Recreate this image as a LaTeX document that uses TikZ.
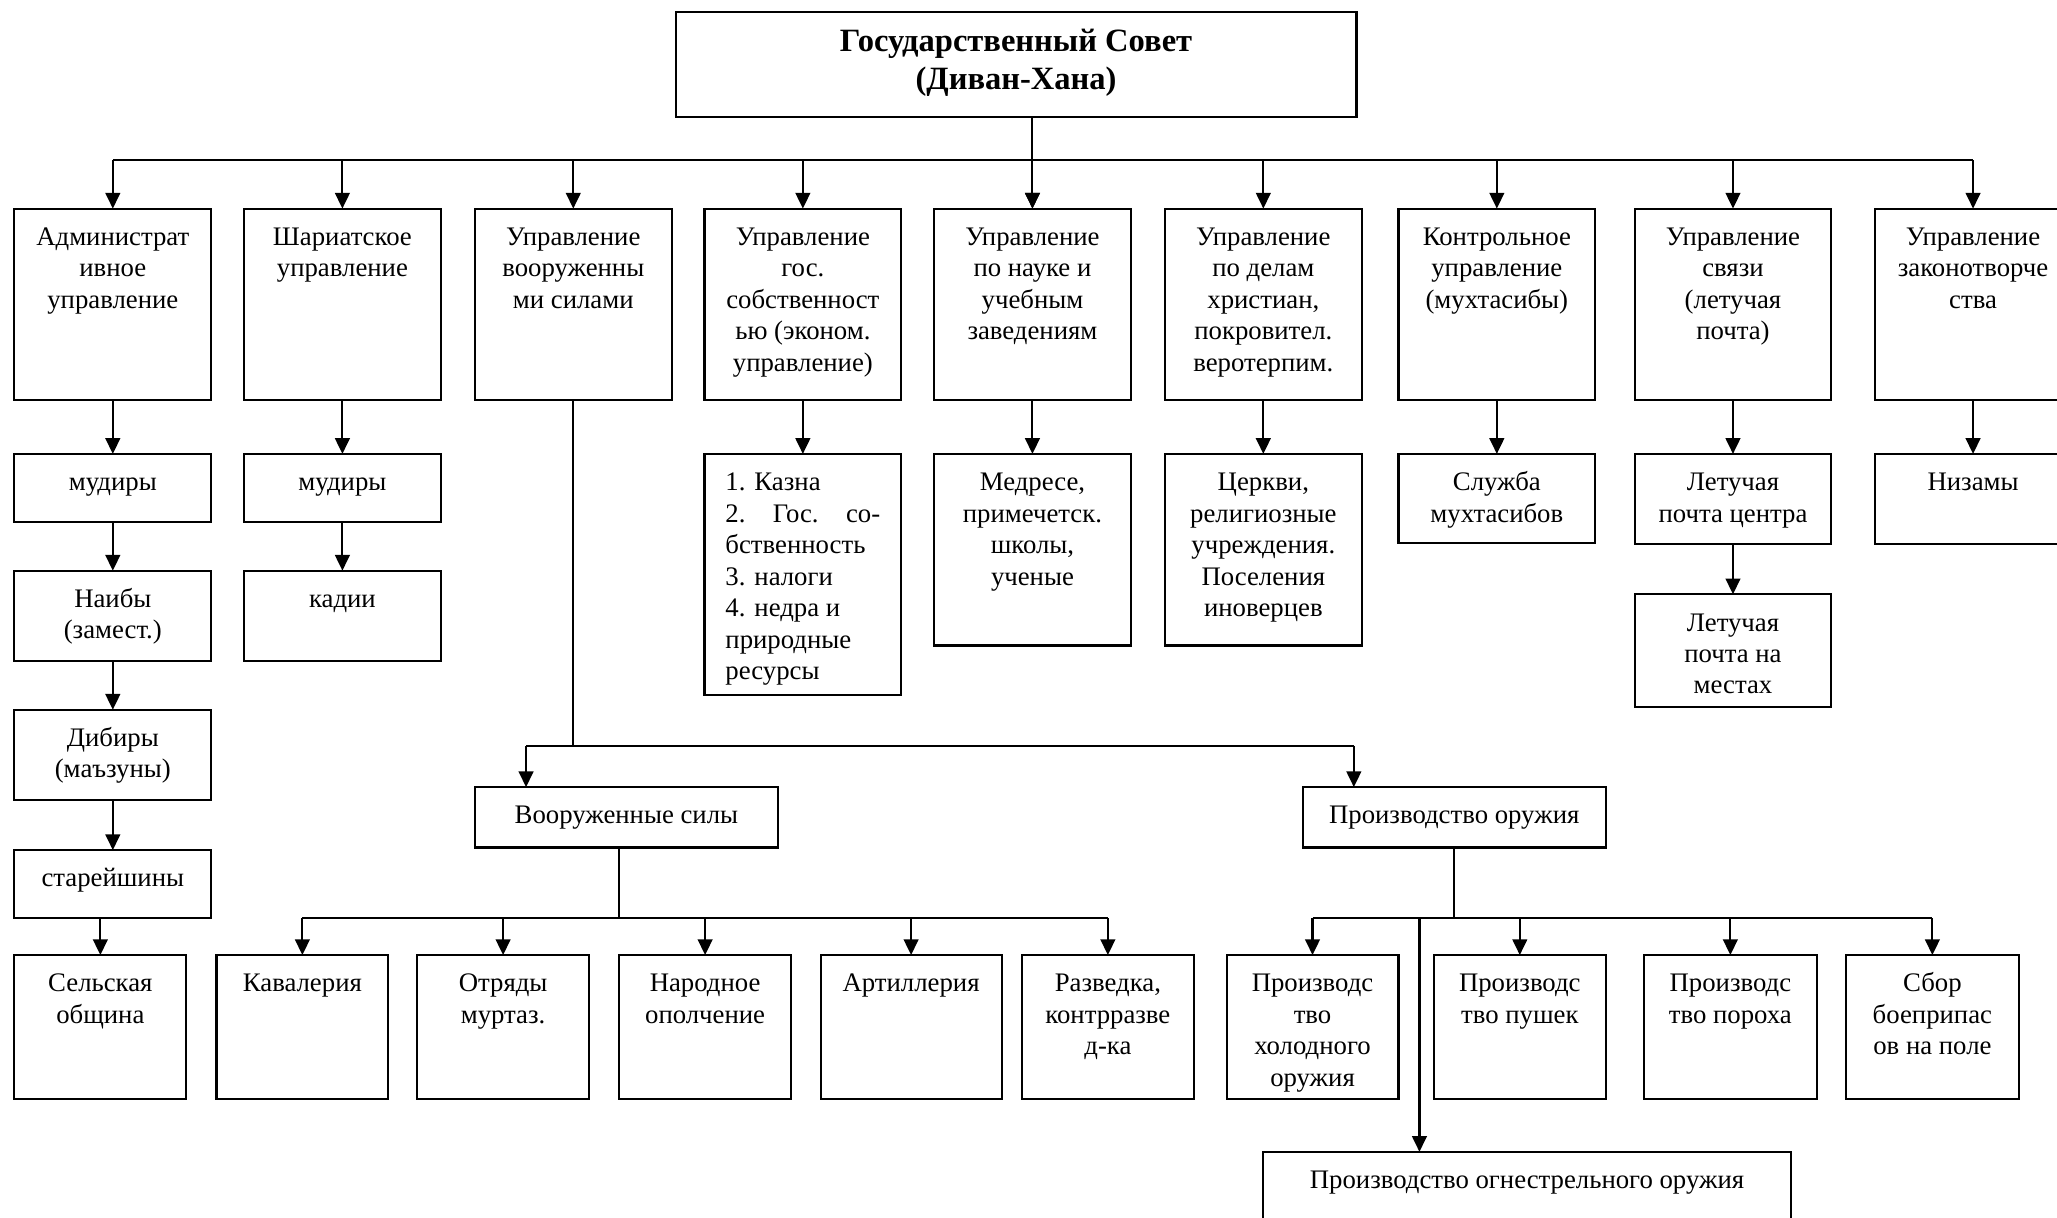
\documentclass[tikz,border=0pt]{standalone}
\usepackage{fontspec}
\setmainfont{Liberation Serif}
\usepackage{tikz}
\usetikzlibrary{arrows.meta,calc}
\newlength{\ux}
\setlength{\ux}{0.5pt}
\newcommand{\cell}[3]{\parbox[c][#2\ux][t]{#1\ux}{\centering\vspace*{5.6pt}\strut#3\par}}
\newcommand{\lcell}[3]{\parbox[c][#2\ux][t]{#1\ux}{\vspace*{5.6pt}\leftskip=16\ux\rightskip=16\ux plus 1fil\parfillskip=0pt plus 1fil\noindent\strut#3\par}}
\tikzset{
    dept/.style={
           rectangle,
           draw=black, line width=0.8pt,
           inner sep=0pt, outer sep=0pt,
           anchor=north west,
           },
}
\tikzset{
    link/.style={
           draw=black, line width=0.8pt,
           -{Triangle[length=6pt,width=5.6pt]},
           },
}
\tikzset{
    wire/.style={
           draw=black, line width=0.8pt,
           },
}
\begin{document}
\begin{tikzpicture}[x=0.5pt,y=-0.5pt,font=\fontsize{10.2}{12}\selectfont]
\useasboundingbox (0,0) rectangle (1568,928.4);
\fill[white] (0,0) rectangle (1568,928.4);
\node[dept] (gov) at (515,9) {\parbox[c][80\ux][t]{519\ux}{\centering\fontsize{12.4}{14.5}\selectfont\bfseries\vspace*{5pt}\strut Государственный Совет\\(Диван-Хана)\par}};
\node[dept] (adm) at (11,159) {\cell{150}{146}{Администрат\\ивное\\управление}};
\node[dept] (shar) at (186,159) {\cell{150}{146}{Шариатское\\управление}};
\node[dept] (arm) at (362,159) {\cell{150}{146}{Управление\\вооруженны\\ми силами}};
\node[dept] (sob) at (537,159) {\cell{150}{146}{Управление\\гос.\\собственност\\ью (эконом.\\управление)}};
\node[dept] (nauka) at (712,159) {\cell{150}{146}{Управление\\по науке и\\учебным\\заведениям}};
\node[dept] (hrist) at (888,159) {\cell{150}{146}{Управление\\по делам\\христиан,\\покровител.\\веротерпим.}};
\node[dept] (kontr) at (1066,159) {\cell{150}{146}{Контрольное\\управление\\(мухтасибы)}};
\node[dept] (svyaz) at (1246,159) {\cell{150}{146}{Управление\\связи\\(летучая\\почта)}};
\node[dept] (zakon) at (1429,159) {\cell{150}{146}{Управление\\законотворче\\ства}};
\node[dept] (mud1) at (11,346) {\cell{150}{52}{мудиры}};
\node[dept] (naib) at (11,435) {\cell{150}{69}{Наибы\\(замест.)}};
\node[dept] (dib) at (11,541) {\cell{150}{69}{Дибиры\\(маъзуны)}};
\node[dept] (star) at (11,648) {\cell{150}{52}{старейшины}};
\node[dept] (selo) at (11,728) {\cell{131}{110}{Сельская\\община}};
\node[dept] (mud2) at (186,346) {\cell{150}{52}{мудиры}};
\node[dept] (kadi) at (186,435) {\cell{150}{69}{кадии}};
\node[dept] (kazna) at (537,346) {\lcell{150}{184}{1. Казна\\2.\hfill Гос.\hfill со-\\бственность\\3. налоги\\4. недра и\\природные\\ресурсы}};
\node[dept] (medr) at (712,346) {\cell{150}{146}{Медресе,\\примечетск.\\школы,\\ученые}};
\node[dept] (cerk) at (888,346) {\cell{150}{146}{Церкви,\\религиозные\\учреждения.\\Поселения\\иноверцев}};
\node[dept] (sluzh) at (1066,346) {\cell{150}{68}{Служба\\мухтасибов}};
\node[dept] (lpc) at (1246,346) {\cell{150}{69}{Летучая\\почта центра}};
\node[dept] (lpm) at (1246,453) {\cell{150}{86}{Летучая\\почта на\\местах}};
\node[dept] (nizam) at (1429,346) {\cell{150}{69}{Низамы}};
\node[dept] (vs) at (362,600) {\cell{231}{46}{Вооруженные силы}};
\node[dept] (po) at (993,600) {\cell{231}{46}{Производство оружия}};
\node[dept] (kav) at (165,728) {\cell{131}{110}{Кавалерия}};
\node[dept] (otr) at (318,728) {\cell{131}{110}{Отряды\\муртаз.}};
\node[dept] (nar) at (472,728) {\cell{131}{110}{Народное\\ополчение}};
\node[dept] (art) at (625.5,728) {\cell{138}{110}{Артиллерия}};
\node[dept] (raz) at (779,728) {\cell{131}{110}{Разведка,\\контрразве\\д-ка}};
\node[dept] (hol) at (935,728) {\cell{131}{110}{Производс\\тво\\холодного\\оружия}};
\node[dept] (push) at (1093,728) {\cell{131}{110}{Производс\\тво пушек}};
\node[dept] (por) at (1253,728) {\cell{132}{110}{Производс\\тво пороха}};
\node[dept] (sbor) at (1407,728) {\cell{132}{110}{Сбор\\боеприпас\\ов на поле}};
\node[dept] (ogn) at (963,878) {\cell{402}{60}{Производство огнестрельного оружия}};
\coordinate (busT) at (0,122);
\coordinate (busA) at (0,568.6);
\coordinate (busV) at (0,700);
\coordinate (vsIn) at ($(vs.north west)+(39,0)$);
\coordinate (poIn) at ($(po.north west)+(39,0)$);
\coordinate (vsOut) at ($(vs.south west)+(110,0)$);
\coordinate (ognIn) at ($(ogn.north west)+(119,0)$);
\draw[link] (gov.south -| nauka.north) -- (nauka.north);
\draw[wire] (adm.north |- busT) -- (zakon.north |- busT);
\foreach \n in {adm,shar,arm,sob,nauka,hrist,kontr,svyaz,zakon}
    \draw[link] (\n.north |- busT) -- (\n.north);
\foreach \a/\b in {adm/mud1,mud1/naib,naib/dib,dib/star,shar/mud2,mud2/kadi,sob/kazna,nauka/medr,hrist/cerk,kontr/sluzh,svyaz/lpc,lpc/lpm,zakon/nizam}
    \draw[link] (\a.south) -- (\b.north);
\draw[link] (star.south -| selo.north) -- (selo.north);
\draw[wire] (arm.south) -- (arm.south |- busA);
\draw[wire] (vsIn |- busA) -- (poIn |- busA);
\draw[link] (vsIn |- busA) -- (vsIn);
\draw[link] (poIn |- busA) -- (poIn);
\draw[wire] (vsOut) -- (vsOut |- busV);
\draw[wire] (kav.north |- busV) -- (raz.north |- busV);
\foreach \n in {kav,otr,nar,art,raz}
    \draw[link] (\n.north |- busV) -- (\n.north);
\draw[wire] (po.south) -- (po.south |- busV);
\draw[wire] (hol.north |- busV) -- (sbor.north |- busV);
\foreach \n in {hol,push,por,sbor}
    \draw[link] (\n.north |- busV) -- (\n.north);
\draw[link] (ognIn |- busV) -- (ognIn);
\end{tikzpicture}
\end{document}
